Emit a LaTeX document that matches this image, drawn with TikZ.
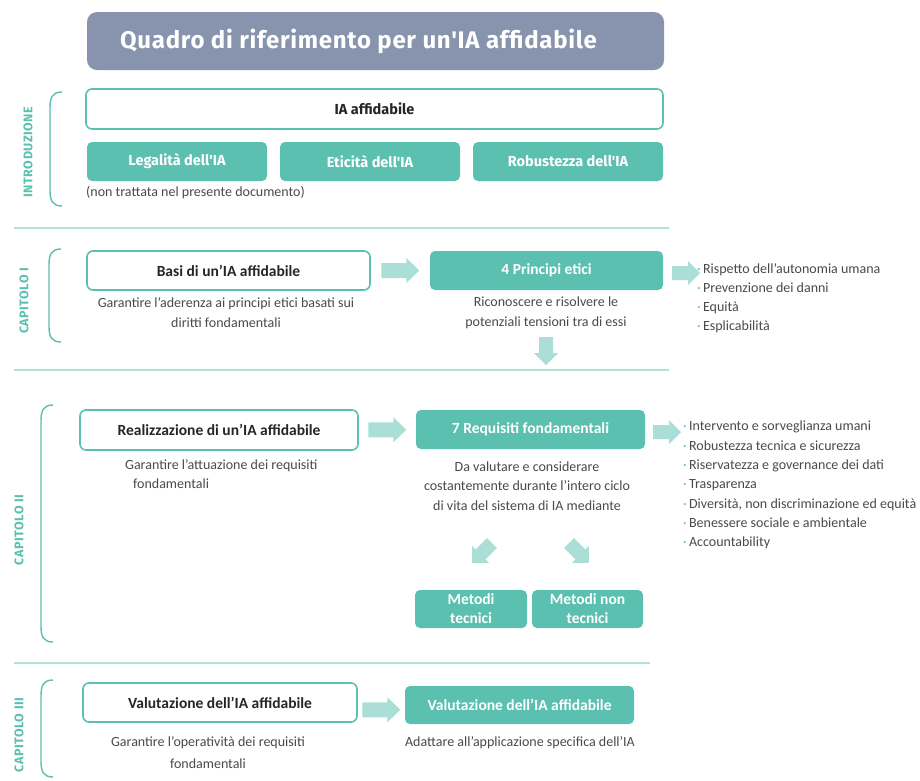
\documentclass[tikz,border=0pt]{standalone}
\usepackage{fontspec}
\setmainfont{Carlito}
\newfontfamily\fira{Fira Sans}
\newfontfamily\firatitle{Fira Sans}[LetterSpace=3]
\newfontfamily\firaside{Fira Sans}[LetterSpace=4]
\usetikzlibrary{calc}
\definecolor{tealA}{HTML}{5CC0B1}
\definecolor{tealL}{HTML}{AADED7}
\definecolor{titleC}{HTML}{8894AD}
\definecolor{txt}{HTML}{4A4A4A}
\definecolor{lineC}{HTML}{B3E2DB}
\newcommand\mybracket[3]{\draw[brk] (#1+12,#2) .. controls (#1+2,#2) and (#1,#2+6) .. (#1,#2+16) -- (#1,#3-16) .. controls (#1,#3-6) and (#1+2,#3) .. (#1+12,#3);}
\tikzset{
  titlebox/.style={fill=titleC, rounded corners=10pt, text=white, inner sep=0pt,
    font=\firatitle\bfseries\fontsize{24}{28}\selectfont},
  outbox/.style={draw=tealA, line width=1.6pt, fill=white, rounded corners=6pt, inner sep=0pt,
    text=black!85, font=\bfseries\fontsize{15.5}{18}\selectfont},
  firabox/.style={fill=tealA, rounded corners=5pt, text=white, inner sep=0pt,
    font=\fira\bfseries\fontsize{14.5}{17}\selectfont},
  fillbox/.style={fill=tealA, rounded corners=5pt, text=white, inner sep=0pt, align=center,
    font=\bfseries\fontsize{15.5}{19}\selectfont},
  sub/.style={text=txt, inner sep=0pt, align=center, font=\fontsize{14}{20}\selectfont},
  itemlist/.style={text=txt, inner sep=0pt, align=left, font=\fontsize{14}{19.3}\selectfont},
  seclabel/.style={rotate=90, text=tealA, inner sep=0pt, font=\firaside\bfseries\fontsize{12.5}{14}\selectfont},
  brk/.style={draw=tealA, line width=1.4pt},
  sep/.style={draw=lineC, line width=1.8pt},
  pics/rarr/.style={code={\fill[tealL] (-19,-7.5) -- (6,-7.5) -- (6,-12.5) -- (19,0) -- (6,12.5) -- (6,7.5) -- (-19,7.5) -- cycle;}},
  pics/sarr/.style={code={\fill[tealL] (-14,-7) -- (2,-7) -- (2,-12) -- (14,0) -- (2,12) -- (2,7) -- (-14,7) -- cycle;}}
}
\newcommand\dt{\textcolor{tealA}{·}\,}
\begin{document}
\begin{tikzpicture}[x=1pt,y=-1pt]
\useasboundingbox[fill=white] (0,0) rectangle (920,780);

% title
\node[titlebox, minimum width=577pt, minimum height=58pt] (title) at (375.5,41) {Quadro di riferimento per un'IA affidabile\hspace*{34pt}};

% Introduzione
\mybracket{50}{92}{206}
\node[seclabel] (lint) at (28,152) {INTRODUZIONE};
\node[outbox, font=\fira\bfseries\fontsize{14.5}{17}\selectfont, minimum width=577pt, minimum height=40pt] (ia) at (374.5,109) {IA affidabile};
\node[firabox, minimum width=180pt, minimum height=39pt] (leg) at (177,161.5) {Legalità dell'IA};
\node[firabox, minimum width=180pt, minimum height=39pt] (eti) at (370,161.5) {Eticità dell'IA};
\node[firabox, minimum width=190pt, minimum height=39pt] (rob) at (568,161.5) {Robustezza dell'IA};
\node[sub, anchor=west] (nt) at (86,193) {(non trattata nel presente documento)};
\draw[sep] (14,228) -- (669,228);

% Capitolo I
\mybracket{49}{249}{342}
\node[seclabel] (lc1) at (24,301) {CAPITOLO I};
\node[outbox, minimum width=283pt, minimum height=39pt] (basi) at (228.5,270.5) {Basi di un'IA affidabile};
\node[sub] (basisub) at (226,313) {Garantire l'aderenza ai principi etici basati sui\\diritti fondamentali};
\node[fillbox, minimum width=233pt, minimum height=39pt] (princ) at (546.5,270.5) {4 Principi etici};
\pic at ($(basi.east)!0.5!(princ.west)$) {rarr};
\node[sub] (princsub) at (546,313) {Riconoscere e risolvere le\\potenziali tensioni tra di essi};
\pic[rotate=-90] at (546,351) {sarr};
\node[itemlist, anchor=north west] (l1) at (697,263) {\dt Rispetto dell'autonomia umana\\\dt Prevenzione dei danni\\\dt Equità\\\dt Esplicabilità};
\pic at (686,273) {sarr};
\draw[sep] (14,370) -- (669,370);

% Capitolo II
\mybracket{41}{405}{642}
\node[seclabel] (lc2) at (19,530) {CAPITOLO II};
\node[outbox, minimum width=278pt, minimum height=40pt] (real) at (219,430) {Realizzazione di un'IA affidabile};
\node[sub, anchor=north west, align=left, font=\fontsize{14}{19}\selectfont] (realsub) at (125,459) {Garantire l'attuazione dei requisiti\\\hspace*{8pt}fondamentali};
\node[fillbox, minimum width=229pt, minimum height=39pt] (req) at (530.5,429.5) {7 Requisiti fondamentali};
\pic at ($(real.east)!0.5!(req.west)$) {rarr};
\node[sub, font=\fontsize{14}{19.5}\selectfont] (reqsub) at (527,486) {Da valutare e considerare\\costantemente durante l'intero ciclo\\di vita del sistema di IA mediante};
\pic[rotate=225] at (482,553) {sarr};
\pic[rotate=-45] at (579,553) {sarr};
\node[fillbox, minimum width=112pt, minimum height=38pt] (mt) at (471,609) {Metodi\\tecnici};
\node[fillbox, minimum width=111pt, minimum height=38pt] (mnt) at (587.5,609) {Metodi non\\tecnici};
\pic at (667,432) {sarr};
\node[itemlist, anchor=north west] (l2) at (683,421) {\dt Intervento e sorveglianza umani\\\dt Robustezza tecnica e sicurezza\\\dt Riservatezza e governance dei dati\\\dt Trasparenza\\\dt Diversità, non discriminazione ed equità\\\dt Benessere sociale e ambientale\\\dt Accountability};
\draw[sep] (14,663) -- (650,663);

% Capitolo III
\mybracket{41}{680}{777}
\node[seclabel] (lc3) at (19,735) {CAPITOLO III};
\node[outbox, minimum width=274pt, minimum height=39pt] (val) at (220,702.5) {Valutazione dell'IA affidabile};
\node[sub, font=\fontsize{14}{22}\selectfont] (valsub) at (208,753) {Garantire l'operatività dei requisiti\\fondamentali};
\node[fillbox, minimum width=229pt, minimum height=38pt] (val2) at (519.5,705) {Valutazione dell'IA affidabile};
\pic at ($(val.east)!0.5!(val2.west)+(0,6)$) {rarr};
\node[sub] (val2sub) at (520,743) {Adattare all'applicazione specifica dell'IA};
\end{tikzpicture}
\end{document}
